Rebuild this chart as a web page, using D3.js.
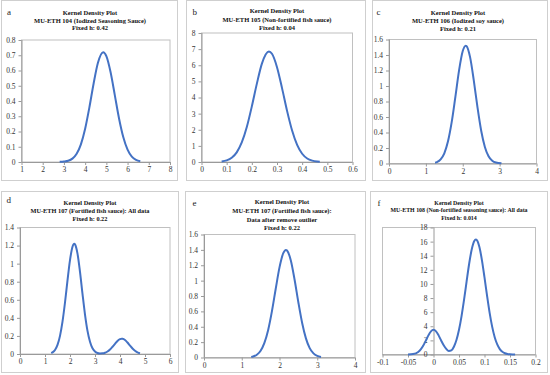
<!DOCTYPE html>
<html>
<head>
<meta charset="utf-8">
<script src="https://cdn.jsdelivr.net/npm/d3@7"></script>
<style>
  body { margin: 0; background: #fff; }
  svg { display: block; }
  .tick-lbl { font-family: "Liberation Serif", "Times New Roman", serif; font-size: 7.5px; fill: #333; }
  .ttl { font-family: "Liberation Serif", "Times New Roman", serif; font-weight: bold; fill: #111; }
  .letter { font-family: "Liberation Serif", "Times New Roman", serif; font-size: 9px; fill: #222; }
</style>
</head>
<body>
<div id="viz"></div>
<script>

// ---- values ----
var titleA = ["Kernel Density Plot", "MU-ETH 104 (Iodized Seasoning Sauce)", "Fixed h: 0.42"];
var titleB = ["Kernel Density Plot", "MU-ETH 105 (Non-fortified fish sauce)", "Fixed h: 0.04"];
var titleC = ["Kernel Density Plot", "MU-ETH 106 (Iodized soy sauce)", "Fixed h: 0.21"];
var titleD = ["Kernel Density Plot", "MU-ETH 107 (Fortified fish sauce): All data", "Fixed h: 0.22"];
var titleE = ["Kernel Density Plot", "MU-ETH 107 (Fortified fish sauce):", "Data after remove outlier", "Fixed h: 0.22"];
var titleF = ["Kernel Density Plot", "MU-ETH 108 (Non-fortified seasoning sauce): All data", "Fixed h: 0.014"];

var xTicksA = [1, 2, 3, 4, 5, 6, 7, 8];
var yTicksA = [0, 0.1, 0.2, 0.3, 0.4, 0.5, 0.6, 0.7, 0.8];
var xTicksB = [0, 0.1, 0.2, 0.3, 0.4, 0.5, 0.6];
var yTicksB = [0, 1, 2, 3, 4, 5, 6, 7, 8];
var xTicksC = [0, 1, 2, 3, 4];
var yTicksC = [0, 0.2, 0.4, 0.6, 0.8, 1, 1.2, 1.4, 1.6];
var xTicksD = [0, 1, 2, 3, 4, 5, 6];
var yTicksD = [0, 0.2, 0.4, 0.6, 0.8, 1, 1.2, 1.4];
var xTicksE = [0, 1, 2, 3, 4];
var yTicksE = [0, 0.2, 0.4, 0.6, 0.8, 1, 1.2, 1.4, 1.6];
var xTicksF = [-0.1, -0.05, 0, 0.05, 0.1, 0.15, 0.2];
var yTicksF = [0, 2, 4, 6, 8, 10, 12, 14, 16, 18];

var densA = [[2.8,0.001],[3.0,0.003],[3.2,0.008],[3.4,0.022],[3.6,0.054],[3.8,0.116],[4.0,0.218],
  [4.2,0.358],[4.4,0.515],[4.6,0.649],[4.85,0.72],[5.0,0.694],[5.2,0.588],[5.4,0.437],[5.6,0.284],
  [5.8,0.162],[6.0,0.081],[6.2,0.035],[6.4,0.014],[6.6,0.005]];

var densB = [[0.08,0.036],[0.10,0.103],[0.12,0.264],[0.14,0.60],[0.16,1.21],[0.18,2.17],[0.20,3.45],
  [0.22,4.86],[0.24,6.10],[0.268,6.85],[0.28,6.71],[0.30,5.88],[0.32,4.58],[0.34,3.17],[0.36,1.95],
  [0.38,1.06],[0.40,0.51],[0.42,0.22],[0.44,0.084],[0.46,0.029],[0.47,0.016]];

var densC = [[1.25,0.01],[1.3,0.018],[1.4,0.053],[1.5,0.132],[1.6,0.286],[1.7,0.533],[1.8,0.86],
  [1.9,1.202],[2.0,1.451],[2.08,1.52],[2.1,1.516],[2.2,1.369],[2.3,1.07],[2.4,0.723],[2.5,0.423],
  [2.6,0.214],[2.7,0.093],[2.8,0.035],[2.9,0.012],[3.05,0.002]];

var densD = [[1.25,0.01],[1.3,0.018],[1.4,0.045],[1.5,0.101],[1.6,0.201],[1.7,0.358],[1.8,0.57],
  [1.9,0.814],[2.0,1.039],[2.1,1.187],[2.17,1.22],[2.2,1.214],[2.3,1.111],[2.4,0.909],[2.5,0.666],
  [2.6,0.437],[2.7,0.256],[2.8,0.135],[2.9,0.063],[3.0,0.027],[3.1,0.011],[3.2,0.006],[3.3,0.007],
  [3.4,0.014],[3.5,0.028],[3.6,0.05],[3.7,0.08],[3.8,0.113],[3.9,0.145],[4.0,0.165],[4.07,0.17],
  [4.1,0.169],[4.2,0.155],[4.3,0.127],[4.4,0.093],[4.5,0.061],[4.6,0.036],[4.7,0.019],[4.8,0.009]];

var densE = [[1.25,0.008],[1.3,0.013],[1.4,0.036],[1.5,0.088],[1.6,0.19],[1.7,0.359],[1.8,0.603],
  [1.9,0.894],[2.0,1.172],[2.1,1.358],[2.17,1.40],[2.2,1.392],[2.3,1.262],[2.4,1.011],[2.5,0.716],
  [2.6,0.449],[2.7,0.249],[2.8,0.122],[2.9,0.053],[3.0,0.02],[3.1,0.007]];

var densF = [[-0.05,0.006],[-0.04,0.059],[-0.03,0.352],[-0.025,0.711],[-0.02,1.261],[-0.015,1.971],
  [-0.01,2.712],[-0.005,3.284],[0,3.5],[0.005,3.284],[0.01,2.712],[0.015,1.98],[0.02,1.30],
  [0.025,0.80],[0.03,0.50],[0.035,0.58],[0.04,1.10],[0.045,2.05],[0.05,3.5],[0.055,5.45],
  [0.06,7.8],[0.065,10.4],[0.07,12.9],[0.075,14.92],[0.08,16.1],[0.083,16.3],[0.085,16.21],
  [0.09,15.23],[0.095,13.35],[0.1,10.92],[0.105,8.34],[0.11,5.94],[0.115,3.95],[0.12,2.45],
  [0.125,1.42],[0.13,0.76],[0.135,0.385],[0.14,0.181],[0.145,0.079],[0.15,0.033],[0.155,0.012],
  [0.16,0.005]];

// ---- drawing ----
var _blue = "#4472c4";
var _axis = "#9a9a9a";
var _box = "#c0c0c0";
var _frame = "#cfcfcf";

var svg = d3.select("#viz")
    .append("svg")
    .attr("width", 550)
    .attr("height", 375);

svg.append("rect").attr("width", 550).attr("height", 375).attr("fill", "#fff");

var fmt = function(v){ return String(+v.toFixed(3)); };

function drawPanel(p){
    var g = svg.append("g");

    // outer chart frame
    g.append("rect")
        .attr("x", p.frame[0] + 0.5).attr("y", p.frame[1] + 0.5)
        .attr("width", p.frame[2] - p.frame[0]).attr("height", p.frame[3] - p.frame[1])
        .attr("fill", "#fff").attr("stroke", _frame).attr("stroke-width", 1);

    var x = d3.scaleLinear().domain(p.xDom).range([p.plot[0], p.plot[2]]);
    var y = d3.scaleLinear().domain(p.yDom).range([p.plot[3], p.plot[1]]);

    // plot area box
    g.append("rect")
        .attr("x", p.plot[0]).attr("y", p.plot[1])
        .attr("width", p.plot[2] - p.plot[0]).attr("height", p.plot[3] - p.plot[1])
        .attr("fill", "none").attr("stroke", _box).attr("stroke-width", 1);

    var yAxisX = x(p.yAt);

    // x axis
    var xa = g.append("g")
        .attr("transform", "translate(0," + y(0) + ")")
        .call(d3.axisBottom(x).tickValues(p.xTicks).tickSize(3).tickPadding(2).tickFormat(fmt));
    // y axis
    var ya = g.append("g")
        .attr("transform", "translate(" + yAxisX + ",0)")
        .call(d3.axisLeft(y).tickValues(p.yTicks).tickSize(3).tickPadding(3).tickFormat(fmt));

    [xa, ya].forEach(function(a){
        a.select(".domain").attr("stroke", _axis);
        a.selectAll(".tick line").attr("stroke", _axis);
        a.selectAll(".tick text").attr("class", "tick-lbl").attr("font-family", null).attr("font-size", null).attr("fill", null);
    });
    xa.select(".domain").attr("d", "M" + p.plot[0] + ",0.5H" + p.plot[2]);
    ya.select(".domain").attr("d", "M0.5," + y(p.yDom[0]) + "V" + y(p.yDom[1]));

    // curve
    var line = d3.line()
        .x(function(d){ return x(d[0]); })
        .y(function(d){ return y(d[1]); })
        .curve(d3.curveMonotoneX);

    g.append("path")
        .datum(p.data)
        .attr("d", line)
        .attr("fill", "none")
        .attr("stroke", _blue)
        .attr("stroke-width", 2)
        .attr("stroke-linejoin", "round");

    // titles
    g.selectAll("text.ttl")
        .data(p.title)
        .enter()
        .append("text")
        .attr("class", "ttl")
        .attr("text-anchor", "middle")
        .attr("font-size", p.tSize)
        .attr("x", p.tX)
        .attr("y", function(d, i){ return p.tY[i]; })
        .text(function(d){ return d; });

    g.append("text")
        .attr("class", "letter")
        .attr("x", p.letterPos[0])
        .attr("y", p.letterPos[1])
        .text(p.letter);
}

var panels = [
    {letter: "a", letterPos: [7, 14.5], frame: [1, 0, 177, 180], plot: [21.5, 40, 170, 162],
     xDom: [1, 8], yDom: [0, 0.8], yAt: 1, xTicks: xTicksA, yTicks: yTicksA, data: densA,
     title: titleA, tX: 90, tY: [15, 22.5, 30], tSize: 6.5},
    {letter: "b", letterPos: [192.5, 14.5], frame: [186, 0, 365, 180], plot: [201.5, 33, 352.5, 162],
     xDom: [0, 0.6], yDom: [0, 8], yAt: 0, xTicks: xTicksB, yTicks: yTicksB, data: densB,
     title: titleB, tX: 277, tY: [13, 21.5, 30], tSize: 6.5},
    {letter: "c", letterPos: [376.5, 15], frame: [372, 0, 547, 180], plot: [389, 39.5, 536.5, 163.5],
     xDom: [0, 4], yDom: [0, 1.6], yAt: 0, xTicks: xTicksC, yTicks: yTicksC, data: densC,
     title: titleC, tX: 458, tY: [15, 23, 30.5], tSize: 6.5},
    {letter: "d", letterPos: [6.5, 203], frame: [1, 191, 178, 372], plot: [20, 227.5, 170, 354],
     xDom: [0, 6], yDom: [0, 1.4], yAt: 0, xTicks: xTicksD, yTicks: yTicksD, data: densD,
     title: titleD, tX: 90, tY: [205, 212.5, 220.5], tSize: 6.3},
    {letter: "e", letterPos: [192.5, 205.5], frame: [185, 191, 365, 372], plot: [204, 234.5, 355, 357.5],
     xDom: [0, 4], yDom: [0, 1.6], yAt: 0, xTicks: xTicksE, yTicks: yTicksE, data: densE,
     title: titleE, tX: 282, tY: [204, 212.5, 221.5, 230], tSize: 6.5},
    {letter: "f", letterPos: [377.5, 206], frame: [370, 191, 547, 372], plot: [382.5, 227.5, 535.5, 354.5],
     xDom: [-0.1, 0.2], yDom: [0, 18], yAt: 0, xTicks: xTicksF, yTicks: yTicksF, data: densF,
     title: titleF, tX: 459, tY: [204.5, 212, 219.5], tSize: 5.9}
];

panels.forEach(drawPanel);

</script>
</body>
</html>
